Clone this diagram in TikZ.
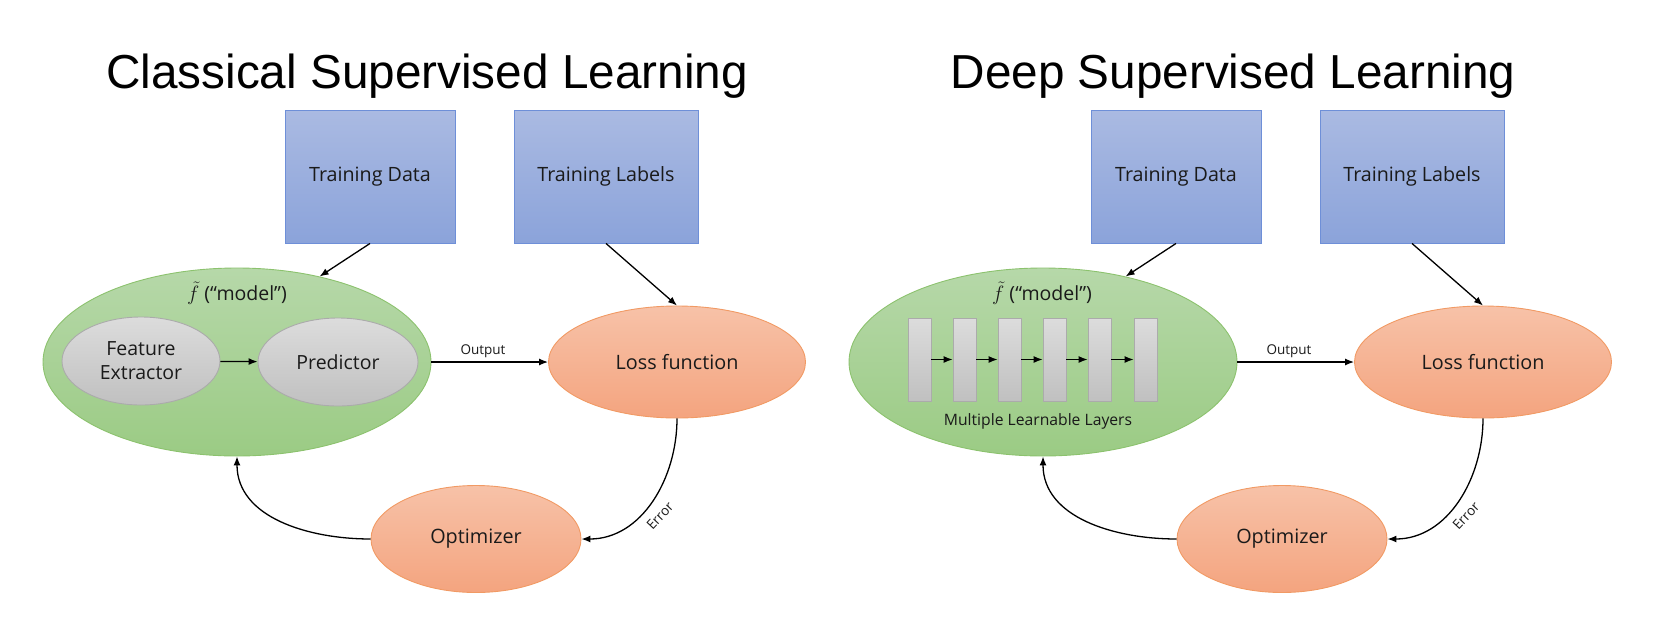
\documentclass[tikz,border=0pt]{standalone}
\usepackage{fontspec}
\setmainfont{Open Sans}
\newfontfamily\titlefont{Liberation Sans}
\usetikzlibrary{shapes.geometric,arrows.meta}
\definecolor{boxtop}{HTML}{AABAE2}
\definecolor{boxbot}{HTML}{8BA3DA}
\definecolor{boxline}{HTML}{6E8FD8}
\definecolor{grntop}{HTML}{B6D8A9}
\definecolor{grnbot}{HTML}{9BCB84}
\definecolor{grnline}{HTML}{8CC26E}
\definecolor{orgtop}{HTML}{F7C2A8}
\definecolor{orgbot}{HTML}{F4A47F}
\definecolor{orgline}{HTML}{F19A64}
\definecolor{grytop}{HTML}{DCDCDC}
\definecolor{grybot}{HTML}{C0C0C0}
\definecolor{gryline}{HTML}{ABABAB}
\definecolor{txt}{HTML}{1A1A1A}
\begin{document}
\begin{tikzpicture}[x=1pt,y=-1pt,
  datbox/.style={rectangle,draw=boxline,line width=0.9pt,top color=boxtop,bottom color=boxbot,minimum height=133pt,text=txt,font=\fontsize{19.7}{23}\selectfont},
  modelell/.style={ellipse,draw=grnline,line width=0.9pt,top color=grntop,bottom color=grnbot,minimum width=388pt,minimum height=188pt,inner sep=0pt},
  orgell/.style={ellipse,draw=orgline,line width=0.9pt,top color=orgtop,bottom color=orgbot,text=txt,font=\fontsize{19.8}{23}\selectfont,inner sep=0pt},
  gryell/.style={ellipse,draw=gryline,line width=0.9pt,top color=grytop,bottom color=grybot,minimum width=158pt,minimum height=88pt,text=txt,font=\fontsize{19.5}{24}\selectfont,align=center,inner sep=0pt},
  layerbox/.style={rectangle,draw=gryline,line width=0.8pt,top color=grytop,bottom color=grybot,minimum width=23pt,minimum height=83pt,inner sep=0pt},
  conn/.style={line width=1.3pt,-{Latex[length=9pt,width=7pt]}},
  small/.style={font=\fontsize{13.5}{16}\selectfont,text=txt},
  ttl/.style={font=\titlefont\fontsize{47.7}{56}\selectfont,anchor=base}
]
\useasboundingbox (0,0) rectangle (1664,640);
% ---------- Left panel ----------
\node[ttl] (LT) at (427,88) {Classical Supervised Learning};
\node[datbox,minimum width=170pt] (LTD) at (370,176.5) {Training Data};
\node[datbox,minimum width=184pt] (LTL) at (606,176.5) {Training Labels};
\node[modelell] (LM) at (237,362) {};
\node[text=txt,font=\fontsize{19.5}{23}\selectfont] (LMT) at (237,293) {$\tilde{f}$ (“model”)};
\node[gryell] (LFE) at (141,361) {Feature\\Extractor};
\node[gryell,minimum width=160pt] (LPR) at (338,362) {Predictor};
\node[orgell,minimum width=257pt,minimum height=112pt] (LLoss) at (677,362) {Loss function};
\node[orgell,minimum width=210pt,minimum height=107pt] (LOpt) at (476,539) {Optimizer};
\draw[conn] (LFE) -- (LPR);
\draw[conn] (LTD.south) -- (LM.46);
\draw[conn] (LTL.south) -- (LLoss.north);
\draw[conn] (LM.east) -- (LLoss.west);
\node[small] (LOut) at (483,351) {Output};
\draw[conn] (LLoss.south) to[out=-90,in=0] (LOpt.east);
\node[small,rotate=47] (LErr) at (660,516) {Error};
\draw[conn] (LOpt.west) to[out=180,in=-90] (LM.south);
% ---------- Right panel ----------
\node[ttl] (RT) at (1233,88) {Deep Supervised Learning};
\node[datbox,minimum width=170pt] (RTD) at (1176,176.5) {Training Data};
\node[datbox,minimum width=184pt] (RTL) at (1412,176.5) {Training Labels};
\node[modelell] (RM) at (1043,362) {};
\node[text=txt,font=\fontsize{19.5}{23}\selectfont] (RMT) at (1042,293) {$\tilde{f}$ (“model”)};
\node[layerbox] (RL1) at (919.5,359.5) {};
\node[layerbox] (RL2) at (964.5,359.5) {};
\node[layerbox] (RL3) at (1009.5,359.5) {};
\node[layerbox] (RL4) at (1054.5,359.5) {};
\node[layerbox] (RL5) at (1099.5,359.5) {};
\node[layerbox] (RL6) at (1145.5,359.5) {};
\draw[conn] (RL1) -- (RL2);
\draw[conn] (RL2) -- (RL3);
\draw[conn] (RL3) -- (RL4);
\draw[conn] (RL4) -- (RL5);
\draw[conn] (RL5) -- (RL6);
\node[text=txt,font=\fontsize{15.7}{18}\selectfont] (RML) at (1038,421) {Multiple Learnable Layers};
\node[orgell,minimum width=257pt,minimum height=112pt] (RLoss) at (1483,362) {Loss function};
\node[orgell,minimum width=210pt,minimum height=107pt] (ROpt) at (1282,539) {Optimizer};
\draw[conn] (RTD.south) -- (RM.46);
\draw[conn] (RTL.south) -- (RLoss.north);
\draw[conn] (RM.east) -- (RLoss.west);
\node[small] (ROut) at (1289,351) {Output};
\draw[conn] (RLoss.south) to[out=-90,in=0] (ROpt.east);
\node[small,rotate=47] (RErr) at (1466,516) {Error};
\draw[conn] (ROpt.west) to[out=180,in=-90] (RM.south);
\end{tikzpicture}
\end{document}
